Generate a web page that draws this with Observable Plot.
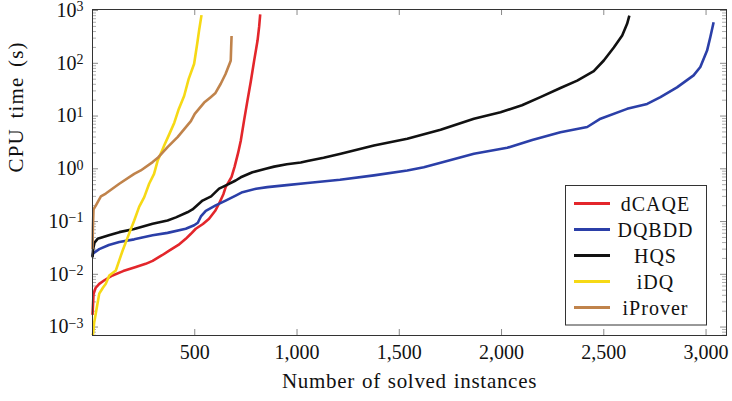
<!DOCTYPE html>
<html>
<head>
<meta charset="utf-8">
<script src="https://cdn.jsdelivr.net/npm/d3@7"></script>
<script src="https://cdn.jsdelivr.net/npm/@observablehq/plot@0.6"></script>
<style>
  html, body { margin: 0; padding: 0; background: #fff; }
  #chart svg { display: block; }
</style>
</head>
<body>
<div id="chart"></div>
<script>
// ---- Data ----
const seriesNames = ["dCAQE", "DQBDD", "HQS", "iDQ", "iProver"];
const seriesColors = ["#e3262b", "#2b3fa8", "#111111", "#f6d915", "#c0834b"];

const dcaqeN = [0, 5, 15, 33, 60, 98, 150, 212, 260, 294, 340, 375, 420, 456, 480, 505, 540, 570, 600, 619, 640, 651, 668, 680, 695, 712, 725, 741, 757, 774, 790, 807, 815, 820];
const dcaqeT = [0.0017, 0.0042, 0.0055, 0.0066, 0.0078, 0.0095, 0.0115, 0.0138, 0.0158, 0.018, 0.023, 0.028, 0.036, 0.047, 0.058, 0.073, 0.09, 0.113, 0.16, 0.22, 0.33, 0.45, 0.58, 0.7, 1.1, 2.0, 3.4, 8.2, 19, 45, 110, 270, 500, 850];

const dqbddN = [0, 3, 33, 80, 131, 204, 294, 367, 456, 497, 515, 530, 554, 600, 651, 700, 733, 800, 855, 950, 1051, 1210, 1376, 1539, 1620, 1702, 1865, 2028, 2150, 2288, 2419, 2484, 2614, 2712, 2777, 2858, 2939, 2972, 3005, 3021, 3037];
const dqbddT = [0.022, 0.025, 0.030, 0.036, 0.041, 0.046, 0.055, 0.061, 0.073, 0.085, 0.095, 0.125, 0.16, 0.2, 0.25, 0.31, 0.36, 0.42, 0.45, 0.49, 0.54, 0.62, 0.75, 0.93, 1.07, 1.3, 1.93, 2.5, 3.5, 4.95, 6.2, 8.9, 13.7, 17, 22.8, 35, 59, 85, 174, 315, 600];

const hqsN = [0, 3, 10, 25, 80, 131, 204, 294, 367, 408, 464, 489, 538, 580, 619, 660, 700, 725, 782, 847, 888, 950, 1018, 1051, 1130, 1214, 1376, 1539, 1702, 1865, 1995, 2100, 2190, 2288, 2370, 2451, 2500, 2549, 2590, 2614, 2625];
const hqsT = [0.021, 0.03, 0.04, 0.047, 0.055, 0.063, 0.072, 0.091, 0.105, 0.12, 0.15, 0.17, 0.25, 0.3, 0.42, 0.5, 0.6, 0.69, 0.86, 1.0, 1.1, 1.22, 1.32, 1.4, 1.62, 1.93, 2.77, 3.7, 5.5, 8.9, 11.8, 16, 22.8, 34, 47, 71, 113, 200, 336, 560, 800];

const idqN = [0, 3, 8, 16, 33, 50, 65, 82, 114, 130, 147, 179, 204, 228, 253, 277, 301, 318, 342, 351, 375, 400, 420, 448, 470, 497, 513, 521, 533];
const idqT = [0.0007, 0.00075, 0.0012, 0.0018, 0.0043, 0.0055, 0.0066, 0.0095, 0.0118, 0.018, 0.028, 0.059, 0.105, 0.19, 0.29, 0.52, 0.8, 1.4, 2.3, 2.8, 4.5, 7.5, 13, 24, 50, 98, 250, 417, 820];

const iproverN = [0, 2, 5, 16, 41, 65, 131, 204, 236, 294, 318, 367, 416, 481, 500, 546, 578, 600, 627, 650, 673, 676, 678, 680];
const iproverT = [0.03, 0.08, 0.17, 0.2, 0.3, 0.34, 0.52, 0.8, 0.93, 1.34, 1.6, 2.57, 4.0, 8.0, 11, 18, 22.8, 27, 41, 62, 105, 113, 200, 330];

const xTicks = [500, 1000, 1500, 2000, 2500, 3000];
const yMajorTicks = [1e-3, 1e-2, 1e-1, 1, 10, 100, 1000];
const xLabel = "Number of solved instances";
const yLabel = "CPU time (s)";

// ---- Build table ----
const seriesN = [dcaqeN, dqbddN, hqsN, idqN, iproverN];
const seriesT = [dcaqeT, dqbddT, hqsT, idqT, iproverT];
const rows = [];
seriesNames.forEach((name, i) => {
  seriesN[i].forEach((n, j) => rows.push({solver: name, n, t: seriesT[i][j]}));
});

const yMinorTicks = [];
for (let e = -4; e <= 3; e++) {
  for (let m = 2; m <= 9; m++) yMinorTicks.push(m * Math.pow(10, e));
}

// ---- Layout ----
const W = 732, H = 401;
const mL = 92, mR = 6, mT = 9, mB = 66;
const pw = W - mL - mR, ph = H - mT - mB;
const yDomain = [Math.pow(10, -3.16), Math.pow(10, 3.02)];
const minorIn = yMinorTicks.filter(v => v > yDomain[0] && v < yDomain[1]);

const chart = Plot.plot({
  width: W, height: H,
  marginLeft: mL, marginRight: mR, marginTop: mT, marginBottom: mB,
  style: {fontFamily: "'Liberation Serif', serif", fontSize: "20px", background: "#fff", color: "#111", overflow: "visible"},
  x: {domain: [0, 3100]},
  y: {type: "log", domain: yDomain},
  color: {domain: seriesNames, range: seriesColors},
  marks: [
    // inward tick marks (bottom/top, left/right)
    Plot.tickX(xTicks, {x: d => d, insetTop: ph - 6, stroke: "#8a8a8a", strokeWidth: 1}),
    Plot.tickX(xTicks, {x: d => d, insetBottom: ph - 6, stroke: "#8a8a8a", strokeWidth: 1}),
    Plot.tickY(yMajorTicks, {y: d => d, insetRight: pw - 6, stroke: "#8a8a8a", strokeWidth: 1}),
    Plot.tickY(yMajorTicks, {y: d => d, insetLeft: pw - 6, stroke: "#8a8a8a", strokeWidth: 1}),
    Plot.tickY(minorIn, {y: d => d, insetRight: pw - 4, stroke: "#9a9a9a", strokeWidth: 0.8}),
    Plot.tickY(minorIn, {y: d => d, insetLeft: pw - 4, stroke: "#9a9a9a", strokeWidth: 0.8}),
    Plot.line(rows, {x: "n", y: "t", z: "solver", stroke: "solver", strokeWidth: 2.6, strokeLinejoin: "round", strokeLinecap: "butt"}),
    Plot.frame({stroke: "#333", strokeWidth: 1}),
    Plot.axisX({ticks: xTicks, tickSize: 0, tickPadding: 9, tickFormat: d3.format(","), label: null, fontSize: 20}),
    Plot.axisY({ticks: yMajorTicks, tickSize: 0, tickPadding: 9, label: null, fontSize: 20,
      tickFormat: d => "10^" + Math.round(Math.log10(d))}),
    Plot.text([xLabel], {text: d => d, frameAnchor: "bottom", dy: 52, fontSize: 21, fill: "#111"}),
    Plot.text([yLabel], {text: d => d, frameAnchor: "left", dx: -76, rotate: -90, fontSize: 21, fill: "#111"})
  ]
});

document.getElementById("chart").appendChild(chart);

const svg = d3.select(chart);
// superscript exponents on y tick labels
svg.selectAll('g[aria-label="y-axis tick label"] text').each(function() {
  const s = this.textContent;
  if (!s.startsWith("10^")) return;
  const exp = s.slice(3).replace("-", "\u2212");
  const t = d3.select(this);
  t.text("10");
  t.append("tspan").attr("dy", "-5.5px").attr("font-size", "14px").text(exp);
});
// letter spacing on axis labels to approximate the TeX font's width
svg.selectAll('g[aria-label="text"] text').each(function() {
  const s = this.textContent;
  if (s === xLabel) d3.select(this).attr("letter-spacing", "0.7px").attr("word-spacing", "1px");
  if (s === yLabel) d3.select(this).attr("letter-spacing", "1.2px").attr("word-spacing", "3px");
});

// legend inside plot area (bottom-right)
const lg = svg.append("g").attr("font-family", "'Liberation Serif', serif").attr("font-size", 20);
const lx = 565.5, ly = 185.5, lw = 141, lh = 139.5, rowH = 26;
lg.append("rect").attr("x", lx).attr("y", ly).attr("width", lw).attr("height", lh)
  .attr("fill", "#fff").attr("stroke", "#333").attr("stroke-width", 1);
seriesNames.forEach((name, i) => {
  const cy = 203.5 + i * rowH;
  lg.append("line").attr("x1", 574).attr("x2", 610).attr("y1", cy).attr("y2", cy)
    .attr("stroke", seriesColors[i]).attr("stroke-width", 2.8);
  lg.append("text").attr("x", 655.5).attr("y", cy).attr("dy", "0.35em")
    .attr("text-anchor", "middle").attr("fill", "#111").attr("letter-spacing", "1px").text(name);
});
</script>
</body>
</html>
